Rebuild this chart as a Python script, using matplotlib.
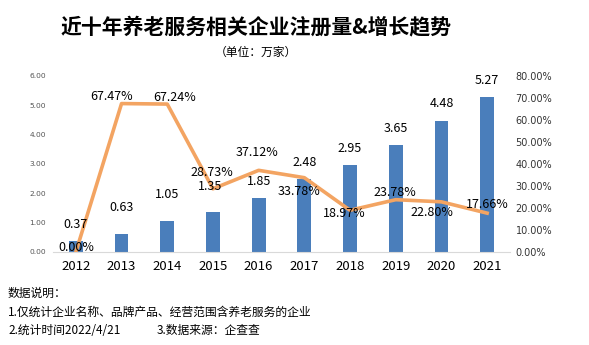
import matplotlib
matplotlib.use("Agg")
import matplotlib.pyplot as plt

plt.rcParams["font.family"] = ["Noto Sans CJK SC", "DejaVu Sans"]

years = ["2012", "2013", "2014", "2015", "2016", "2017", "2018", "2019", "2020", "2021"]
counts = [0.37, 0.63, 1.05, 1.35, 1.85, 2.48, 2.95, 3.65, 4.48, 5.27]
growth = [0.00, 67.47, 67.24, 28.73, 37.12, 33.78, 18.97, 23.78, 22.80, 17.66]

title = "近十年养老服务相关企业注册量&增长趋势"
subtitle = "（单位：万家）"
notes = ["数据说明：",
         "1.仅统计企业名称、品牌产品、经营范围含养老服务的企业",
         "2.统计时间2022/4/21"]
note_src = "3.数据来源：企查查"

# label offsets in points (dx, dy)
bar_off = [(0, 12), (0, 19), (0, 19), (-2, 19), (0, 12), (0, 12), (0, 12), (0, 12), (0, 12), (0, 12)]
pct_off = [(0, 3), (-7, 5), (5, 5), (-1, 12), (-1, 13), (-4, -10),
           (-4, -2), (-1, 5), (-7, -8), (0, 6)]

bar_color = "#4A7EBB"
line_color = "#F3A462"

fig = plt.figure(figsize=(5.89, 3.45), dpi=100)
ax = fig.add_axes([53 / 589, 93 / 345, 457 / 589, 176 / 345])
x = list(range(len(years)))

ax.bar(x, counts, width=0.3, color=bar_color, zorder=2)
ax.set_xlim(-0.5, len(years) - 0.5)
ax.set_ylim(0, 6)
ax.set_yticks([0, 1, 2, 3, 4, 5, 6])
ax.set_yticklabels(["{:.2f}".format(v) for v in range(7)], family="DejaVu Sans",
                   fontsize=5.4, color="#555555")
ax.set_xticks(x)
ax.set_xticklabels(years, fontsize=9.5)
ax.tick_params(axis="both", length=0)
ax.tick_params(axis="x", pad=6)
ax.tick_params(axis="y", pad=5)
for s in ["top", "right", "left"]:
    ax.spines[s].set_visible(False)
ax.spines["bottom"].set_color("#d9d9d9")

ax2 = ax.twinx()
ax2.plot(x, growth, color=line_color, linewidth=2.6, zorder=3, solid_joinstyle="round")
ax2.set_ylim(0, 80)
ax2.set_yticks(range(0, 81, 10))
ax2.set_yticklabels(["{:.2f}%".format(v) for v in range(0, 81, 10)], family="DejaVu Sans",
                    fontsize=7, color="#333333")
ax2.tick_params(axis="y", length=0, pad=4)
for s in ["top", "right", "left", "bottom"]:
    ax2.spines[s].set_visible(False)

# bar value labels drawn on the top axes so they sit above the line
for xi, v, (dx, dy) in zip(x, counts, bar_off):
    ax2.annotate("{:.2f}".format(v), (xi, v), xycoords=ax.transData,
                 xytext=(dx, dy), textcoords="offset points",
                 ha="center", va="center", fontsize=9, zorder=5)

for xi, v, (dx, dy) in zip(x, growth, pct_off):
    ax2.annotate("{:.2f}%".format(v), (xi, v), xytext=(dx, dy), textcoords="offset points",
                 ha="center", va="center", fontsize=9, zorder=5)

fig.text(256 / 589, 1 - 27 / 345, title, ha="center", va="center",
         fontsize=15, fontweight="bold")
fig.text(256 / 589, 1 - 52 / 345, subtitle, ha="center", va="center", fontsize=8.5)

fig.text(8 / 589, 1 - 293 / 345, notes[0], ha="left", va="center", fontsize=8.5)
fig.text(8 / 589, 1 - 312 / 345, notes[1], ha="left", va="center", fontsize=8.5)
fig.text(8 / 589, 1 - 330 / 345, notes[2], ha="left", va="center", fontsize=8.5)
fig.text(157 / 589, 1 - 330 / 345, note_src, ha="left", va="center", fontsize=8.5)

fig.savefig("out.png", dpi=100)
